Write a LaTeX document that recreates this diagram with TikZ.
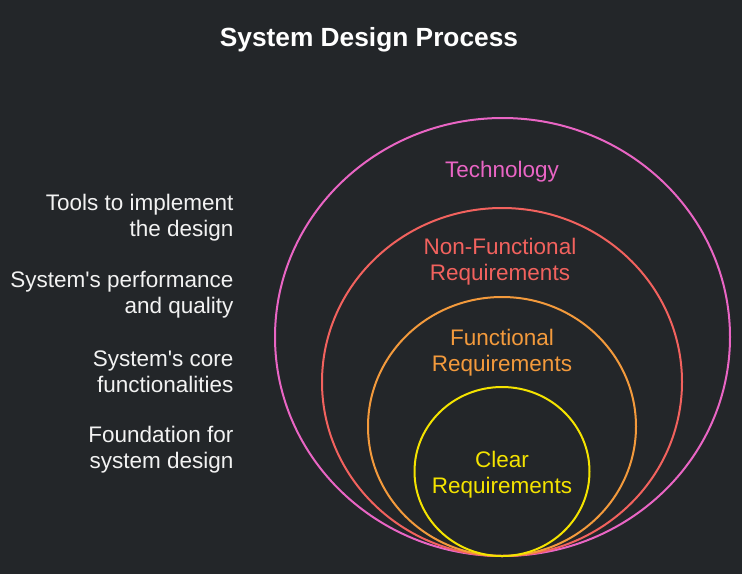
\documentclass[tikz,border=0pt]{standalone}
\usepackage{fontspec}
\setmainfont{Liberation Sans}
\usetikzlibrary{positioning, shapes.geometric}
\definecolor{bgdark}{HTML}{232629}
\definecolor{techpink}{HTML}{E965C4}
\definecolor{nfred}{HTML}{F2625E}
\definecolor{funcorange}{HTML}{F39A3C}
\definecolor{clearyellow}{HTML}{F4E300}
\definecolor{softwhite}{HTML}{F2F2F2}

\begin{document}
\begin{tikzpicture}[
  x=1pt, y=-1pt,
  ring/.style={draw, ellipse, line width=2pt, inner sep=0pt},
  lbl/.style={align=center, font=\fontsize{22.5}{26}\selectfont},
  note/.style={align=right, anchor=east, text=softwhite, font=\fontsize{22.5}{26}\selectfont}
]
\fill[bgdark] (0,0) rectangle (742,574);
\useasboundingbox (0,0) rectangle (742,574);

\node[text=white, font=\fontsize{26.3}{30}\selectfont\bfseries] (title) at (369,40) {System Design Process};

% nested rings, all touching at the bottom
\node[ring, draw=techpink, minimum width=455pt, minimum height=438pt] (tech) at (502.5,337) {};
\node[ring, draw=nfred, minimum width=360pt, minimum height=348pt] (nonfunc) at (502,382) {};
\node[ring, draw=funcorange, minimum width=268pt, minimum height=259pt] (func) at (502,426.5) {};
\node[ring, draw=clearyellow, minimum width=175pt, minimum height=169pt] (clear) at (502,471.5) {};

\node[lbl, text=techpink] (techlbl) at (502,172) {Technology};
\node[lbl, text=nfred] (nonfunclbl) at (500,262) {Non-Functional\\Requirements};
\node[lbl, text=funcorange] (funclbl) at (502,352.5) {Functional\\Requirements};
\node[lbl, text=clearyellow] (clearlbl) at (502,475) {Clear\\Requirements};

% descriptions on the left
\node[note] (technote) at (237,218) {Tools to implement\\the design};
\node[note] (nonfuncnote) at (237,295) {System\textquotesingle s performance\\and quality};
\node[note] (funcnote) at (237,372) {System\textquotesingle s core\\functionalities};
\node[note] (clearnote) at (237,450) {Foundation for\\system design};
\end{tikzpicture}
\end{document}
